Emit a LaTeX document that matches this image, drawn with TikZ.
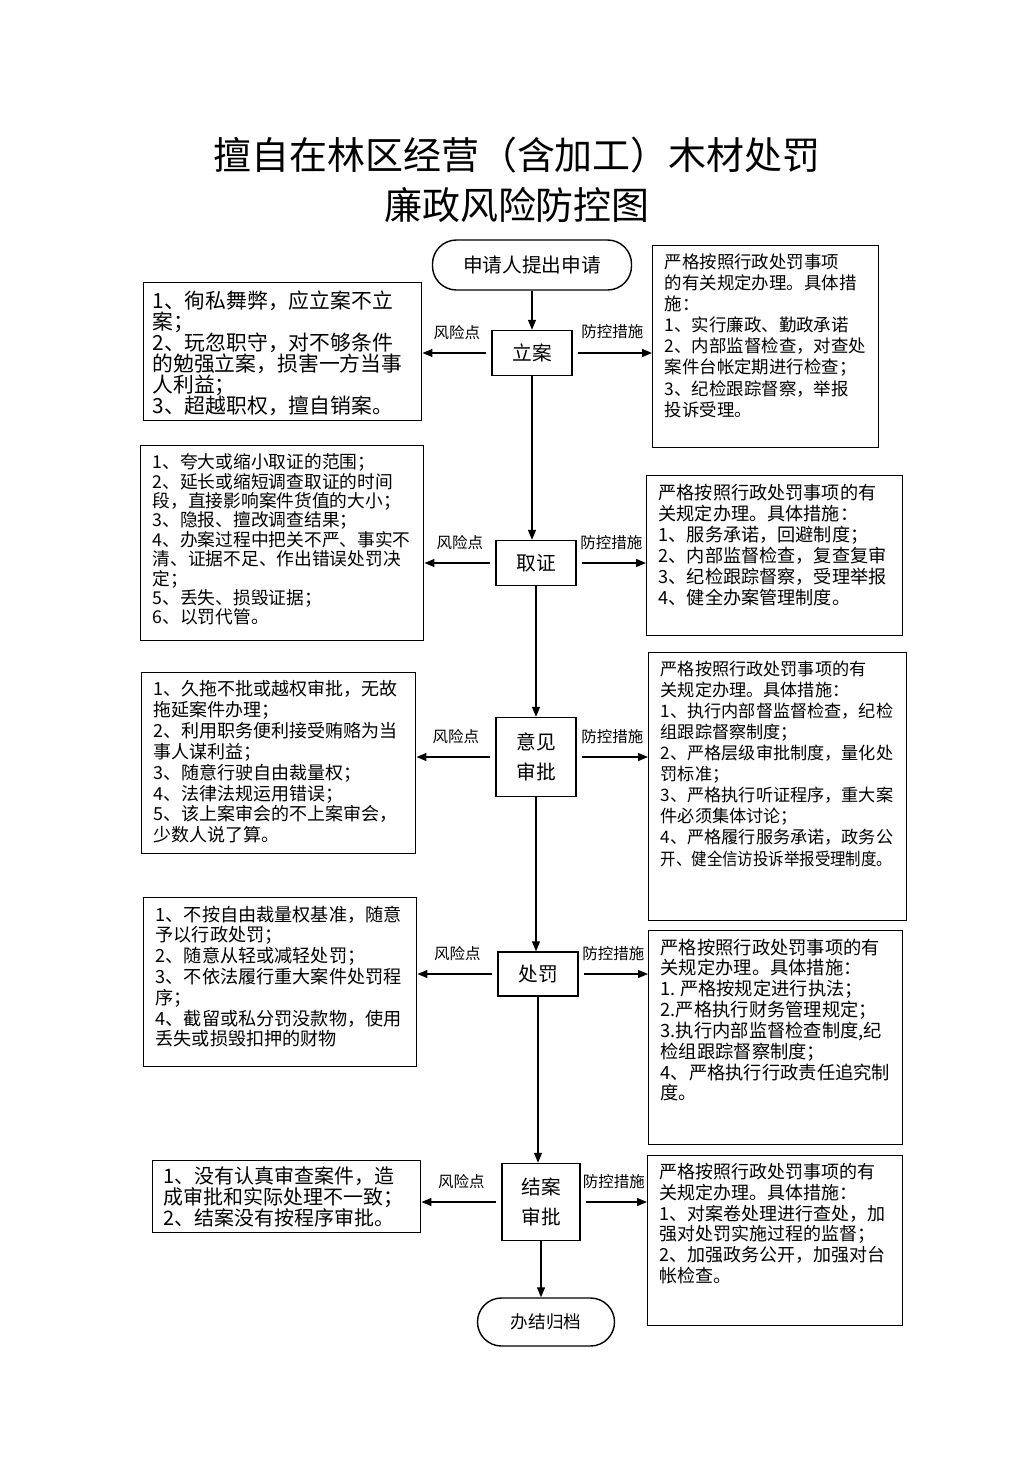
\documentclass[tikz,border=0pt]{standalone}
\usepackage{fontspec}
\setmainfont{Noto Sans CJK SC}
\usepackage{graphicx}
\usetikzlibrary{arrows.meta}
\newcommand{\boxtext}[3]{\parbox[t][#2][t]{#1}{#3}}
\begin{document}
\begin{tikzpicture}
	[x=0.025cm, y=-0.025cm,
	flow/.style={draw, line width=1pt, minimum width=2cm,
		minimum height=1.125cm, inner sep=1pt, align=center,
		font=\fontsize{14}{21}\selectfont},
	ends/.style={flow, rounded corners=0.6cm},
	textbox/.style={draw, line width=1pt, anchor=north west,
		inner xsep=0.3cm, inner ysep=0.2cm},
	arr/.style={-{Triangle[length=0.25cm,width=0.2cm]}, line width=0.9pt},
	lbl/.style={font=\fontsize{11}{13}\selectfont, inner sep=1pt}]
	\useasboundingbox (0,0) rectangle (1033,1461);
	% title
	\node[align=center, font=\fontsize{27}{35.6}\selectfont] (title) at (517,180)
		{擅自在林区经营（含加工）木材处罚\\廉政风险防控图};
	% main chain
	\node[ends, minimum width=4.975cm, minimum height=1.25cm] (apply) at (532,265) {申请人提出申请};
	\node[flow] (lian) at (532,353) {立案};
	\node[flow] (quzheng) at (536,563) {取证};
	\node[flow, minimum height=1.975cm] (shenpi) at (536,757) {意见\\审批};
	\node[flow, minimum height=1.1cm] (chufa) at (538,974) {处罚};
	\node[flow, minimum width=1.95cm, minimum height=1.925cm] (jiean) at (541,1202) {结案\\审批};
	\node[ends, minimum width=3.425cm, minimum height=1.2cm,
		font=\fontsize{12.5}{15}\selectfont] (guidang) at (546,1322) {办结归档};
	% risk points
	\node[textbox, inner xsep=0.22cm] (risk1) at (143,282) {\boxtext{6.51cm}{3.05cm}{\fontsize{14.8}{15}\selectfont
		1、徇私舞弊，应立案不立\\
		案；\\
		2、玩忽职守，对不够条件\\
		的勉强立案，损害一方当事\\
		人利益；\\
		3、超越职权，擅自销案。}};
	\node[textbox] (risk2) at (140,445) {\boxtext{6.475cm}{4.475cm}{\fontsize{12.6}{13.8}\selectfont
		1、夸大或缩小取证的范围；\\
		2、延长或缩短调查取证的时间\\
		段，直接影响案件货值的大小；\\
		3、隐报、擅改调查结果；\\
		4、办案过程中把关不严、事实不\\
		清、证据不足、作出错误处罚决\\
		定；\\
		5、丢失、损毁证据；\\
		6、以罚代管。}};
	\node[textbox] (risk3) at (141,672) {\boxtext{6.25cm}{4.125cm}{\fontsize{12.8}{14.8}\selectfont
		1、久拖不批或越权审批，无故\\
		拖延案件办理；\\
		2、利用职务便利接受贿赂为当\\
		事人谋利益；\\
		3、随意行驶自由裁量权；\\
		4、法律法规运用错误；\\
		5、该上案审会的不上案审会，\\
		少数人说了算。}};
	\node[textbox] (risk4) at (143,897) {\boxtext{6.225cm}{3.825cm}{\fontsize{12.9}{14.8}\selectfont
		1、不按自由裁量权基准，随意\\
		予以行政处罚；\\
		2、随意从轻或减轻处罚；\\
		3、不依法履行重大案件处罚程\\
		序；\\
		4、截留或私分罚没款物，使用\\
		丢失或损毁扣押的财物}};
	\node[textbox, inner xsep=0.28cm, inner ysep=0.15cm] (risk5) at (152,1160) {\boxtext{6.14cm}{1.5cm}{\fontsize{14.2}{15}\selectfont
		1、没有认真审查案件，造\\
		成审批和实际处理不一致；\\
		2、结案没有按程序审批。}};
	% control measures
	\node[textbox] (measure1) at (652,245) {\boxtext{5.05cm}{4.65cm}{\fontsize{12.4}{15}\selectfont
		严格按照行政处罚事项\\
		的有关规定办理。具体措\\
		施：\\
		1、实行廉政、勤政承诺\\
		2、内部监督检查，对查处\\
		案件台帐定期进行检查；\\
		3、纪检跟踪督察，举报\\
		投诉受理。}};
	\node[textbox] (measure2) at (646,475) {\boxtext{5.8cm}{3.6cm}{\fontsize{12.9}{15}\selectfont
		严格按照行政处罚事项的有\\
		关规定办理。具体措施：\\
		1、服务承诺，回避制度；\\
		2、内部监督检查，复查复审\\
		3、纪检跟踪督察，受理举报\\
		4、健全办案管理制度。}};
	\node[textbox] (measure3) at (648,652) {\boxtext{5.85cm}{6.3cm}{\fontsize{12.2}{15}\selectfont
		严格按照行政处罚事项的有\\
		关规定办理。具体措施：\\
		1、执行内部督监督检查，纪检\\
		组跟踪督察制度；\\
		2、严格层级审批制度，量化处\\
		罚标准；\\
		3、严格执行听证程序，重大案\\
		件必须集体讨论；\\
		4、严格履行服务承诺，政务公\\
		\scalebox{0.9}[1]{开、健全信访投诉举报受理制度。}}};
	\node[textbox] (measure4) at (648,930) {\boxtext{5.75cm}{4.95cm}{\fontsize{13}{14.8}\selectfont
		严格按照行政处罚事项的有\\
		关规定办理。具体措施：\\
		1.~严格按规定进行执法；\\
		2.严格执行财务管理规定；\\
		3.执行内部监督检查制度,纪\\
		检组跟踪督察制度；\\
		4、严格执行行政责任追究制\\
		度。}};
	\node[textbox] (measure5) at (647,1155) {\boxtext{5.775cm}{3.85cm}{\fontsize{12.8}{14.7}\selectfont
		严格按照行政处罚事项的有\\
		关规定办理。具体措施：\\
		1、对案卷处理进行查处，加\\
		强对处罚实施过程的监督；\\
		2、加强政务公开，加强对台\\
		帐检查。}};
	% vertical arrows
	\draw[arr] (apply) -- (lian);
	\draw[arr] (lian.south) -- (lian.south |- quzheng.north);
	\draw[arr] (quzheng.south) -- (quzheng.south |- shenpi.north);
	\draw[arr] (shenpi.south) -- (shenpi.south |- chufa.north);
	\draw[arr] (chufa.south) -- (chufa.south |- jiean.north);
	\draw[arr] (jiean.south) -- (jiean.south |- guidang.north);
	% side arrows
	\draw[arr, shorten <=0.12cm] (lian.west) -- node[lbl, above=0.27cm] {风险点} (lian.west -| risk1.east);
	\draw[arr, shorten <=0.12cm] (lian.east) -- node[lbl, above=0.3cm] {防控措施} (lian.east -| measure1.west);
	\draw[arr, shorten <=0.12cm] (quzheng.west) -- node[lbl, above=0.27cm] {风险点} (quzheng.west -| risk2.east);
	\draw[arr, shorten <=0.12cm] (quzheng.east) -- node[lbl, above=0.27cm] {防控措施} (quzheng.east -| measure2.west);
	\draw[arr, shorten <=0.12cm] (shenpi.west) -- node[lbl, above=0.27cm] {风险点} (shenpi.west -| risk3.east);
	\draw[arr, shorten <=0.12cm] (shenpi.east) -- node[lbl, above=0.27cm] {防控措施} (shenpi.east -| measure3.west);
	\draw[arr, shorten <=0.12cm] (chufa.west) -- node[lbl, above=0.27cm] {风险点} (chufa.west -| risk4.east);
	\draw[arr, shorten <=0.12cm] (chufa.east) -- node[lbl, above=0.27cm] {防控措施} (chufa.east -| measure4.west);
	\draw[arr, shorten <=0.12cm] (jiean.west) -- node[lbl, above=0.27cm] {风险点} (jiean.west -| risk5.east);
	\draw[arr, shorten <=0.12cm] (jiean.east) -- node[lbl, above=0.27cm] {防控措施} (jiean.east -| measure5.west);
\end{tikzpicture}
\end{document}
